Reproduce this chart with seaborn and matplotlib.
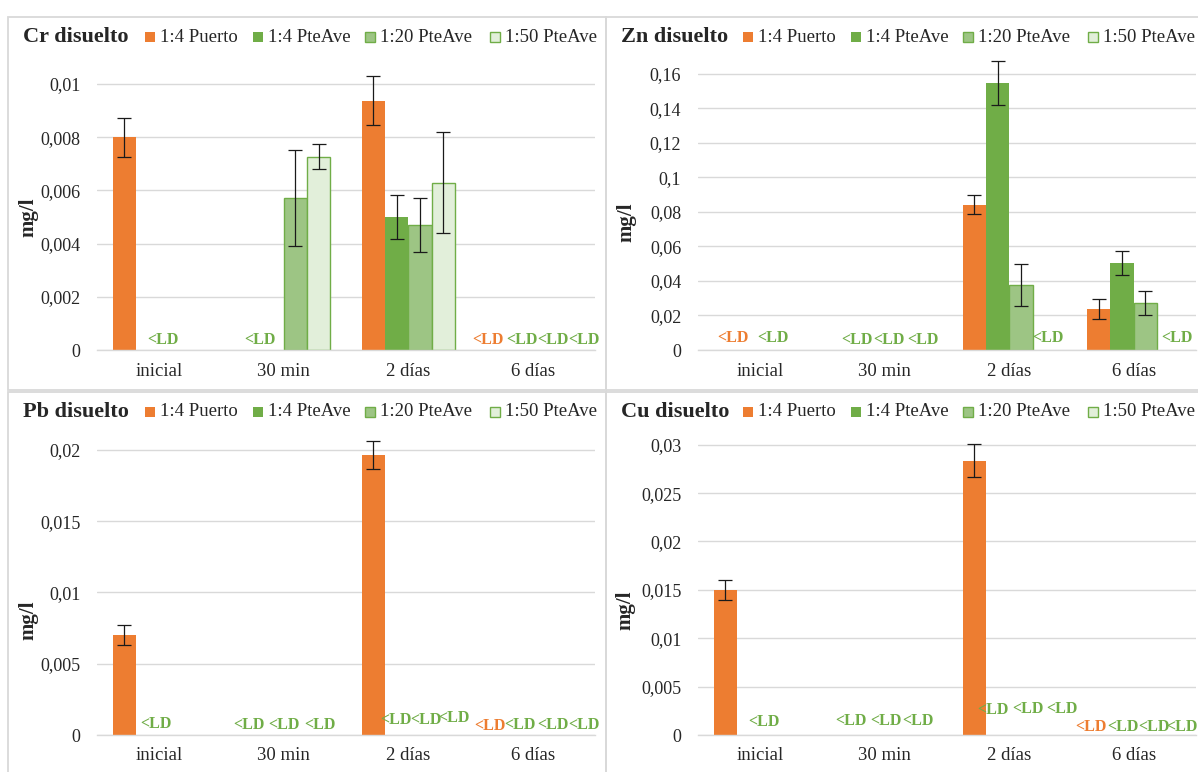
import numpy as np
import pandas as pd
import matplotlib
matplotlib.use("Agg")
import matplotlib.pyplot as plt
import seaborn as sns
from matplotlib.patches import Rectangle
from matplotlib.colors import to_rgba
from matplotlib.ticker import MultipleLocator, FuncFormatter

nan = np.nan

times = ["inicial", "30 min", "2 días", "6 días"]
series = ["1:4 Puerto", "1:4 PteAve", "1:20 PteAve", "1:50 PteAve"]

# rows = series, columns = times (nan = below detection limit)
cr_values = [[0.0080, nan, 0.00936, nan],
             [nan, nan, 0.0050, nan],
             [nan, 0.00571, 0.0047, nan],
             [nan, 0.00726, 0.00628, nan]]
cr_errors = [[0.00073, nan, 0.00092, nan],
             [nan, nan, 0.00081, nan],
             [nan, 0.0018, 0.0010, nan],
             [nan, 0.00047, 0.0019, nan]]

zn_values = [[nan, nan, 0.0841, 0.0238],
             [nan, nan, 0.1548, 0.0504],
             [nan, nan, 0.0377, 0.0272],
             [nan, nan, nan, nan]]
zn_errors = [[nan, nan, 0.0055, 0.0060],
             [nan, nan, 0.0128, 0.0067],
             [nan, nan, 0.0120, 0.0072],
             [nan, nan, nan, nan]]

pb_values = [[0.00701, nan, 0.01964, nan],
             [nan, nan, nan, nan],
             [nan, nan, nan, nan],
             [nan, nan, nan, nan]]
pb_errors = [[0.0007, nan, 0.00095, nan],
             [nan, nan, nan, nan],
             [nan, nan, nan, nan],
             [nan, nan, nan, nan]]

cu_values = [[0.0150, nan, 0.02836, nan],
             [nan, nan, nan, nan],
             [nan, nan, nan, nan],
             [nan, nan, nan, nan]]
cu_errors = [[0.0010, nan, 0.0017, nan],
             [nan, nan, nan, nan],
             [nan, nan, nan, nan],
             [nan, nan, nan, nan]]

# "<LD" labels: (time index, offset in category units, lift in px, colour key)
cr_ld = [(0, 0.03, 10, "g"), (1, -0.19, 10, "g"),
         (3, -0.36, 10, "o"), (3, -0.09, 10, "g"), (3, 0.16, 10, "g"), (3, 0.41, 10, "g")]
zn_ld = [(0, -0.22, 12, "o"), (0, 0.10, 12, "g"),
         (1, -0.22, 10, "g"), (1, 0.03, 10, "g"), (1, 0.31, 10, "g"),
         (2, 0.31, 12, "g"), (3, 0.35, 12, "g")]
pb_ld = [(0, -0.03, 11, "g"),
         (1, -0.28, 10, "g"), (1, 0.0, 10, "g"), (1, 0.29, 10, "g"),
         (2, -0.10, 15, "g"), (2, 0.14, 15, "g"), (2, 0.37, 17, "g"),
         (3, -0.34, 9, "o"), (3, -0.10, 10, "g"), (3, 0.16, 10, "g"), (3, 0.41, 10, "g")]
cu_ld = [(0, 0.03, 13, "g"),
         (1, -0.27, 14, "g"), (1, 0.01, 14, "g"), (1, 0.27, 14, "g"),
         (2, -0.13, 25, "g"), (2, 0.15, 26, "g"), (2, 0.42, 26, "g"),
         (3, -0.34, 8, "o"), (3, -0.09, 8, "g"), (3, 0.16, 8, "g"), (3, 0.39, 8, "g")]

colors = ["#ED7D31", "#70AD47", "#9DC584", "#E2EFDA"]
edges = ["#ED7D31", "#70AD47", "#70AD47", "#70AD47"]
ld_colors = {"g": "#70AD47", "o": "#ED7D31"}

sns.set_style("white")
plt.rcParams["font.family"] = ["Liberation Serif", "DejaVu Serif"]

W, H = 1198, 772
fig = plt.figure(figsize=(W / 100, H / 100), dpi=100)


def fig_rect(l, t, r, b):
    return [l / W, 1 - b / H, (r - l) / W, (b - t) / H]


panels = [
    ("Cr disuelto", cr_values, cr_errors, cr_ld, (97, 60, 595, 350), 0.0109, 0.002, (8, 17, 606, 390), (28, 217)),
    ("Zn disuelto", zn_values, zn_errors, zn_ld, (698, 55, 1196, 350), 0.171, 0.02, (606, 17, 1210, 390), (626, 222)),
    ("Pb disuelto", pb_values, pb_errors, pb_ld, (97, 437, 595, 735), 0.0209, 0.005, (8, 392, 606, 790), (28, 620)),
    ("Cu disuelto", cu_values, cu_errors, cu_ld, (698, 437, 1196, 735), 0.0308, 0.005, (606, 392, 1210, 790), (625, 610)),
]

fmt = FuncFormatter(lambda v, _: f"{v:g}".replace(".", ","))

for name, values, errors, ld, box, ytop, step, frame, ylab in panels:
    # panel frame
    fl, ft, fr, fb = frame
    fig.add_artist(Rectangle((fl / W, 1 - fb / H), (fr - fl) / W, (fb - ft) / H,
                             transform=fig.transFigure, fill=False,
                             edgecolor="#d9d9d9", lw=1.3))

    rows = []
    for k, s in enumerate(series):
        for i, t in enumerate(times):
            rows.append({"time": t, "series": s, "value": values[k][i]})
    # missing values become empty bars so every series keeps its slot
    df = pd.DataFrame(rows).fillna(0)

    ax = fig.add_axes(fig_rect(*box))
    sns.barplot(data=df, x="time", y="value", hue="series", order=times,
                hue_order=series, palette=dict(zip(series, colors)),
                saturation=1, width=0.75, errorbar=None, legend=False, ax=ax)

    for p in ax.patches:
        if p.get_height() <= 0:
            p.set_visible(False)
            continue
        fc = p.get_facecolor()
        k = int(np.argmin([np.abs(np.array(fc) - np.array(to_rgba(c))).sum() for c in colors]))
        p.set_edgecolor(edges[k])
        p.set_linewidth(1.0 if k >= 2 else 0)
        xc = p.get_x() + p.get_width() / 2
        ti = int(round(xc))
        err = errors[k][ti]
        if not np.isnan(err):
            ax.errorbar(xc, p.get_height(), yerr=err, color="#1a1a1a",
                        lw=0.9, capsize=5, capthick=0.9, zorder=5)

    for ti, off, lift, ck in ld:
        ax.annotate("<LD", xy=(ti + off, 0), xycoords="data",
                    xytext=(0, lift * 0.72), textcoords="offset points",
                    ha="center", va="center", fontsize=11.5, fontweight="bold",
                    color=ld_colors[ck], annotation_clip=False)

    ax.set_xlim(-0.5, 3.5)
    ax.set_ylim(0, ytop)
    ax.yaxis.set_major_locator(MultipleLocator(step))
    ax.yaxis.set_major_formatter(fmt)
    ax.yaxis.grid(True, color="#d9d9d9", lw=1)
    ax.set_axisbelow(True)
    for sp in ["top", "left", "right"]:
        ax.spines[sp].set_visible(False)
    ax.spines["bottom"].set_color("#d9d9d9")
    ax.spines["bottom"].set_linewidth(1)
    ax.tick_params(axis="y", length=0, labelsize=13, pad=12, labelcolor="#262626")
    ax.tick_params(axis="x", length=0, labelsize=13.5, pad=9, labelcolor="#262626")
    ax.set_xlabel("")
    ax.set_ylabel("")
    fig.text(ylab[0] / W, 1 - ylab[1] / H, "mg/l", rotation=90, ha="center",
             va="center", fontsize=15, fontweight="bold")

    # title and legend row
    ty = ft + 20
    fig.text((fl + 15) / W, 1 - ty / H, name, ha="left", va="center",
             fontsize=16, fontweight="bold")
    sq_x = [137, 245, 357, 482]
    for k, s in enumerate(series):
        x0 = fl + sq_x[k]
        fig.add_artist(Rectangle((x0 / W, 1 - (ty + 5) / H), 10 / W, 10 / H,
                                 transform=fig.transFigure, facecolor=colors[k],
                                 edgecolor=edges[k], lw=1.0 if k >= 2 else 0))
        fig.text((x0 + 15) / W, 1 - ty / H, s, ha="left", va="center",
                 fontsize=13.5, color="#262626")

fig.savefig("out.png", dpi=100)
